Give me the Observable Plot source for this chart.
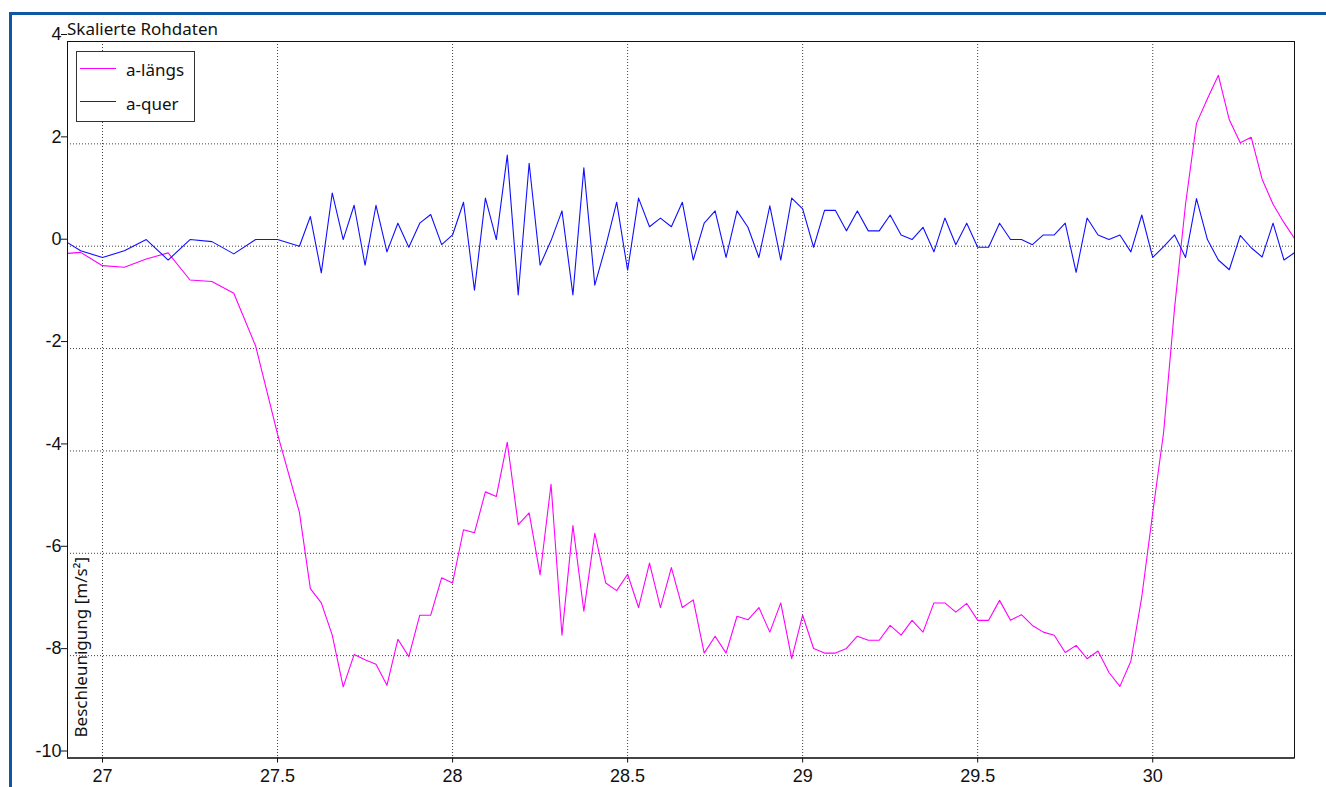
<!DOCTYPE html>
<html><head><meta charset="utf-8">
<script src="https://cdn.jsdelivr.net/npm/d3@7"></script>
<script src="https://cdn.jsdelivr.net/npm/@observablehq/plot@0.6"></script>
<style>
body{margin:0;background:#fff;}
#wrap{position:relative;width:1326px;height:787px;overflow:hidden;background:#fff;}
#chart{position:absolute;left:0;top:0;}
#border{position:absolute;left:9px;top:12px;width:1400px;height:900px;border-top:3px solid #0f57a2;border-left:3px solid #0f57a2;box-sizing:border-box;pointer-events:none;}
#title{position:absolute;left:67px;top:17px;font-family:"Noto Sans";font-size:17px;color:#111;white-space:nowrap;}
#legend{position:absolute;left:76px;top:51px;width:119px;height:71px;border:1px solid #333;background:#fff;box-sizing:border-box;font-family:"Noto Sans";font-size:17px;color:#111;}
#legend svg{position:absolute;left:3px;}
#legend span{position:absolute;left:49px;white-space:nowrap;line-height:normal;}
</style>
</head><body>
<div id="wrap">
  <div id="chart"></div>
  <div id="title"></div>
  <div id="legend"></div>
  <div id="border"></div>
</div>
<script>
const title = "Skalierte Rohdaten";
const yLabel = "Beschleunigung [m/s²]";
const seriesNames = ["a-längs", "a-quer"];
const seriesColors = ["#ff00ff", "#1010ff"];
const xTicks = [27, 27.5, 28, 28.5, 29, 29.5, 30];
const yTicks = [-10, -8, -6, -4, -2, 0, 2, 4];

const time = [
  26.9, 26.9375, 27, 27.0625, 27.125, 27.1875, 27.25, 27.3125, 27.375, 27.4375, 27.5, 27.5625,
  27.59375, 27.625, 27.65625, 27.6875, 27.71875, 27.75, 27.78125, 27.8125, 27.84375, 27.875, 27.90625, 27.9375, 27.96875, 28,
  28.03125, 28.0625, 28.09375, 28.125, 28.15625, 28.1875, 28.21875, 28.25, 28.28125, 28.3125, 28.34375, 28.375, 28.40625, 28.4375, 28.46875, 28.5,
  28.53125, 28.5625, 28.59375, 28.625, 28.65625, 28.6875, 28.71875, 28.75, 28.78125, 28.8125, 28.84375, 28.875, 28.90625, 28.9375, 28.96875, 29,
  29.03125, 29.0625, 29.09375, 29.125, 29.15625, 29.1875, 29.21875, 29.25, 29.28125, 29.3125, 29.34375, 29.375, 29.40625, 29.4375, 29.46875, 29.5,
  29.53125, 29.5625, 29.59375, 29.625, 29.65625, 29.6875, 29.71875, 29.75, 29.78125, 29.8125, 29.84375, 29.875, 29.90625, 29.9375, 29.96875, 30,
  30.03125, 30.0625, 30.09375, 30.125, 30.15625, 30.1875, 30.21875, 30.25, 30.28125, 30.3125, 30.34375, 30.375, 30.40625
];

const aLaengs = [
  -0.14, -0.12, -0.38, -0.41, -0.25, -0.13, -0.66, -0.69, -0.92, -1.95, -3.67, -5.20,
  -6.69, -6.97, -7.60, -8.61, -7.98, -8.08, -8.17, -8.58, -7.68, -8.02, -7.21, -7.21, -6.48, -6.58,
  -5.54, -5.60, -4.80, -4.89, -3.83, -5.44, -5.21, -6.42, -4.65, -7.60, -5.46, -7.13, -5.61, -6.58, -6.73, -6.41,
  -7.06, -6.19, -7.06, -6.28, -7.06, -6.91, -7.95, -7.62, -7.95, -7.23, -7.30, -7.06, -7.54, -6.97, -8.06, -7.21,
  -7.86, -7.95, -7.95, -7.86, -7.62, -7.70, -7.70, -7.41, -7.60, -7.31, -7.54, -6.97, -6.97, -7.15, -6.98, -7.31,
  -7.31, -6.92, -7.31, -7.20, -7.41, -7.54, -7.60, -7.94, -7.80, -8.06, -7.91, -8.33, -8.60, -8.11, -6.85, -5.21,
  -3.63, -1.20, 0.82, 2.40, 2.88, 3.34, 2.47, 2.02, 2.13, 1.31, 0.82, 0.46, 0.14
];

const aQuer = [
  0.07, -0.09, -0.22, -0.09, 0.13, -0.27, 0.13, 0.09, -0.15, 0.13, 0.13, 0.0,
  0.58, -0.52, 1.04, 0.13, 0.80, -0.37, 0.80, -0.11, 0.45, -0.02, 0.45, 0.62, 0.03, 0.22,
  0.86, -0.86, 0.94, 0.13, 1.78, -0.95, 1.62, -0.37, 0.11, 0.69, -0.95, 1.53, -0.76, 0.0, 0.86, -0.47,
  0.94, 0.38, 0.55, 0.38, 0.86, -0.27, 0.45, 0.69, -0.22, 0.69, 0.37, -0.22, 0.79, -0.27, 0.94, 0.73,
  -0.02, 0.70, 0.70, 0.30, 0.69, 0.30, 0.30, 0.61, 0.22, 0.13, 0.37, -0.11, 0.55, 0.03, 0.45, -0.02,
  -0.02, 0.45, 0.13, 0.13, 0.03, 0.22, 0.22, 0.45, -0.51, 0.55, 0.22, 0.13, 0.22, -0.11, 0.61, -0.22,
  -0.01, 0.22, -0.22, 0.93, 0.13, -0.27, -0.46, 0.21, -0.03, -0.21, 0.45, -0.27, -0.12
];

const seriesValues = [aLaengs, aQuer];
const tables = seriesValues.map((vals, i) => time.map((t, j) => ({t, v: vals[j], s: seriesNames[i]})));

const gridStyle = {stroke: "#000", strokeOpacity: 0.75, strokeDasharray: "1,2", strokeWidth: 1};

const chart = Plot.plot({
  width: 1326,
  height: 787,
  marginLeft: 67,
  marginRight: 32,
  marginTop: 41,
  marginBottom: 29.5,
  style: {background: "transparent", fontFamily: "'Liberation Sans', Arial, sans-serif", fontSize: "18px", color: "#111", overflow: "visible"},
  x: {domain: [26.9, 30.405], label: null},
  y: {domain: [-10, 4], label: null},
  marks: [
    Plot.gridX(xTicks, gridStyle),
    Plot.gridY(yTicks, gridStyle),
    ...tables.map((tb, i) => Plot.line(tb, {x: "t", y: "v", stroke: seriesColors[i], strokeWidth: 1.1, clip: true})),
    Plot.frame({stroke: "#111", strokeWidth: 1}),
    Plot.ruleY([-10], {stroke: "#444", strokeWidth: 2.2}),
    Plot.axisX(xTicks, {tickSize: 5, tickPadding: 6, tickFormat: d => String(d), fontSize: 18}),
    Plot.axisY(yTicks, {tickSize: 6, tickPadding: 0, dy: -7, tickFormat: d => String(d), fontSize: 18}),
    Plot.text([yLabel], {frameAnchor: "bottom-left", rotate: -90, textAnchor: "start", dx: 19, dy: -20.5, fontFamily: "Noto Sans", fontSize: 17, fill: "#111"})
  ]
});
document.getElementById("chart").appendChild(chart);
document.getElementById("title").textContent = title;

const legend = document.getElementById("legend");
const rowTops = [5.5, 39.5];
const lineYs = [16, 49];
seriesNames.forEach((name, i) => {
  const sw = document.createElementNS("http://www.w3.org/2000/svg", "svg");
  sw.setAttribute("width", "37");
  sw.setAttribute("height", "3");
  sw.style.top = (lineYs[i] - 1.5) + "px";
  const ln = document.createElementNS("http://www.w3.org/2000/svg", "line");
  ln.setAttribute("x1", "0"); ln.setAttribute("x2", "36");
  ln.setAttribute("y1", "1.5"); ln.setAttribute("y2", "1.5");
  ln.setAttribute("stroke", seriesColors[i]); ln.setAttribute("stroke-width", "1");
  sw.appendChild(ln);
  legend.appendChild(sw);
  const sp = document.createElement("span");
  sp.textContent = name;
  sp.style.top = rowTops[i] + "px";
  legend.appendChild(sp);
});
</script>
</body></html>
